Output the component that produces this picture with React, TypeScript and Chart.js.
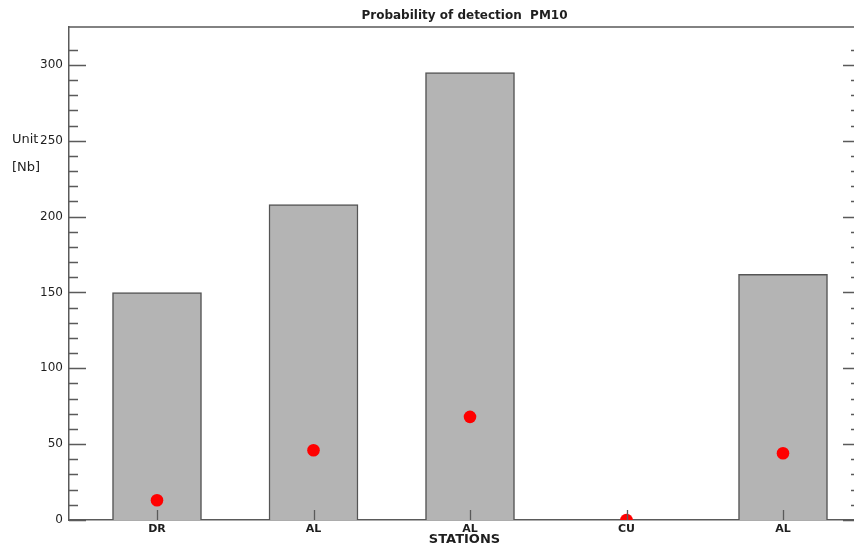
import { useEffect, useRef } from "react";
import Chart from "chart.js/auto";

// Station labels along the x axis and their slot positions
const stations = ["DR", "AL", "AL", "CU", "AL"];
const stationSlots = [1, 2, 3, 4, 5];

// Number of detections per station (bars) and probability of detection (dots)
const detections = [150, 208, 295, 0, 162];
const probabilities = [13, 46, 68, 0, 44];

// Axis ranges and tick steps
const yMax = 325;
const yMajorStep = 50;
const yMinorStep = 10;
const xMin = 0.4377;
const xMax = 5.492;

const AXIS = "#5a5a5a";
const TEXT = "#1e1e1e";
const FONT = "'DejaVu Sans', sans-serif";

// Draws the closed frame, inward tick marks and the y-axis caption
const framePlugin = {
  id: "frame",
  afterDatasetsDraw(chart: any) {
    const { ctx, chartArea, scales } = chart;
    const { left, right, top, bottom } = chartArea;
    const x = scales.x;
    const y = scales.y;
    ctx.save();
    ctx.strokeStyle = AXIS;
    ctx.lineWidth = 1.5;
    ctx.beginPath();
    ctx.moveTo(left, top);
    ctx.lineTo(right, top);
    ctx.lineTo(right, bottom);
    ctx.stroke();

    ctx.lineWidth = 1.3;
    ctx.beginPath();
    for (const t of y.ticks) {
      if (t.value % yMinorStep !== 0) continue;
      const py = Math.round(y.getPixelForValue(t.value)) + 0.5;
      const len = t.value % yMajorStep === 0 ? 17 : 9;
      ctx.moveTo(left, py);
      ctx.lineTo(left + len, py);
      ctx.moveTo(right, py);
      ctx.lineTo(right - len, py);
    }
    for (const s of stationSlots) {
      const px = Math.round(x.getPixelForValue(s)) + 0.5;
      ctx.moveTo(px, bottom);
      ctx.lineTo(px, bottom - 10);
    }
    ctx.stroke();

    ctx.fillStyle = TEXT;
    ctx.font = `13px ${FONT}`;
    ctx.textAlign = "left";
    ctx.textBaseline = "middle";
    ctx.fillText("Unit", 12, 140);
    ctx.fillText("[Nb]", 12, 168);
    ctx.restore();
  },
};

export default function App() {
  const canvasRef = useRef<HTMLCanvasElement | null>(null);

  useEffect(() => {
    const canvas = canvasRef.current;
    if (!canvas) return;
    const chart = new Chart(canvas, {
      type: "bar",
      data: {
        datasets: [
          {
            type: "scatter",
            label: "Probability",
            data: stationSlots.map((s, i) => ({ x: s, y: probabilities[i] })),
            backgroundColor: "#ff0000",
            borderColor: "#ff0000",
            pointRadius: 6.3,
            pointBorderWidth: 0,
            order: 0,
          } as any,
          {
            type: "bar",
            label: "Detections",
            data: stationSlots.map((s, i) => ({ x: s, y: detections[i] })),
            backgroundColor: "#b4b4b4",
            borderColor: "#555555",
            borderWidth: 1.5,
            barThickness: 89,
            order: 1,
          } as any,
        ],
      },
      options: {
        animation: false,
        responsive: false,
        maintainAspectRatio: false,
        layout: { padding: { left: 0, right: 10, top: 0, bottom: 0 } },
        plugins: {
          legend: { display: false },
          tooltip: { enabled: false },
          title: {
            display: true,
            fullSize: false,
            text: "Probability of detection  PM10",
            color: TEXT,
            font: { family: FONT, size: 12, weight: "bold", lineHeight: 1.2 },
            padding: { top: 9, bottom: 3.6 },
          },
        },
        scales: {
          x: {
            type: "linear",
            min: xMin,
            max: xMax,
            offset: false,
            grid: { display: false, drawTicks: false, offset: false },
            border: { display: true, color: AXIS, width: 1.5 },
            afterBuildTicks: (scale: any) => {
              scale.ticks = stationSlots.map((v) => ({ value: v }));
            },
            afterFit: (scale: any) => {
              scale.height = 26;
            },
            ticks: {
              autoSkip: false,
              maxRotation: 0,
              padding: 4,
              color: TEXT,
              font: { family: FONT, size: 11, weight: "bold", lineHeight: 1.0 },
              callback: (_v: any, i: number) => stations[i],
            },
            title: {
              display: true,
              text: "STATIONS",
              color: TEXT,
              font: { family: FONT, size: 13, weight: "bold", lineHeight: 1.0 },
              padding: { top: 0, bottom: 0 },
            },
          },
          y: {
            type: "linear",
            min: 0,
            max: yMax,
            grid: { display: false, drawTicks: false },
            border: { display: true, color: AXIS, width: 1.5 },
            afterFit: (scale: any) => {
              scale.width = 69;
            },
            ticks: {
              stepSize: yMinorStep,
              autoSkip: false,
              padding: 6,
              color: TEXT,
              font: { family: FONT, size: 12 },
              callback: (v: any) => (v % yMajorStep === 0 ? String(v) : ""),
            },
          },
        },
      },
      plugins: [framePlugin],
    });
    return () => chart.destroy();
  }, []);

  return (
    <div
      style={{
        position: "fixed",
        left: 0,
        top: 0,
        width: 854,
        height: 546,
        overflow: "hidden",
        background: "#ffffff",
      }}
    >
      <canvas
        ref={canvasRef}
        width={870}
        height={546}
        style={{ width: 870, height: 546, display: "block" }}
      />
    </div>
  );
}
